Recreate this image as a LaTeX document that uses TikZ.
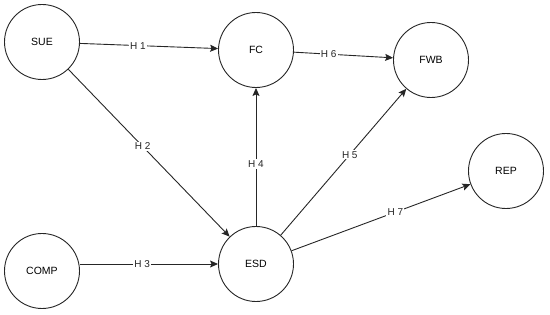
\documentclass[tikz,border=0pt]{standalone}
\usepackage{fontspec}
\setsansfont{Liberation Sans}
\usetikzlibrary{arrows.meta, positioning}
\tikzset{
  % costrutto del modello
  construct/.style={circle, draw=black!85, line width=0.9pt, minimum size=75pt,
    inner sep=0pt, align=center, font=\fontsize{10.5}{12}\selectfont\sffamily},
  % ipotesi (freccia tra costrutti)
  hyp/.style={-{Stealth[length=8pt, width=7pt, inset=1.5pt]}, line width=0.9pt, black!85},
  % etichetta dell'ipotesi sulla freccia
  hlbl/.style={fill=white, inner sep=1.2pt, font=\fontsize{10}{11}\selectfont\sffamily},
}
\begin{document}
\begin{tikzpicture}[x=1pt, y=-1pt]
  \useasboundingbox (0,0) rectangle (550,315);
  \node[construct] (sue) at (42,42) {SUE};
  \node[construct] (fc) at (256,50) {FC};
  \node[construct] (fwb) at (431,60) {FWB};
  \node[construct] (rep) at (506,171) {REP};
  \node[construct] (comp) at (42,271) {COMP};
  \node[construct] (esd) at (256,264) {ESD};
  \draw[hyp] (sue) -- node[hlbl, pos=0.42] {H 1} (fc);
  \draw[hyp] (sue) -- node[hlbl, pos=0.46] {H 2} (esd);
  \draw[hyp] (esd -| comp.east) -- node[hlbl, pos=0.45] {H 3} (esd);
  \draw[hyp] (esd) -- node[hlbl, pos=0.45] {H 4} (fc);
  \draw[hyp] (esd) -- node[hlbl, pos=0.55] {H 5} (fwb);
  \draw[hyp] (fc) -- node[hlbl, pos=0.35] {H 6} (fwb);
  \draw[hyp] (esd) -- node[hlbl, pos=0.58] {H 7} (rep);
\end{tikzpicture}
\end{document}
